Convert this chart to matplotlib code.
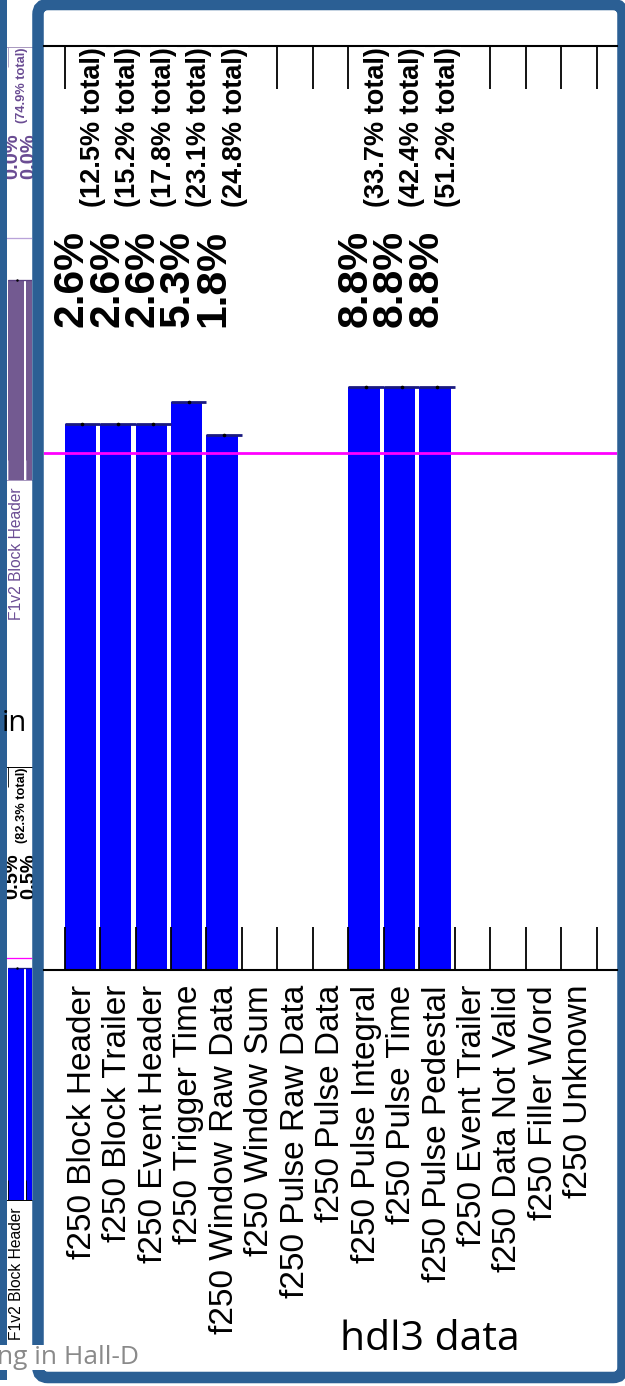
import numpy as np
import matplotlib.pyplot as plt
from matplotlib.patches import FancyBboxPatch, Rectangle
from matplotlib.transforms import blended_transform_factory

plt.rcParams['font.family'] = ['Liberation Sans', 'DejaVu Sans']

W, H = 625, 1386

# hdl3 data: f250 word types, percent of words and running total
f250_types = ['Block Header', 'Block Trailer', 'Event Header', 'Trigger Time',
              'Window Raw Data', 'Window Sum', 'Pulse Raw Data', 'Pulse Data',
              'Pulse Integral', 'Pulse Time', 'Pulse Pedestal', 'Event Trailer',
              'Data Not Valid', 'Filler Word', 'Unknown']
f250_pct = [2.6, 2.6, 2.6, 5.3, 1.8, 0, 0, 0, 8.8, 8.8, 8.8, 0, 0, 0, 0]
f250_cum = [12.5, 15.2, 17.8, 23.1, 24.8, None, None, None,
            33.7, 42.4, 51.2, None, None, None, None]

# neighbouring panels, cut off at the left edge of the picture
f1_types = ['F1v2 Block Header', 'F1v2 Block Trailer']
f1_pct_top = [0.049, 0.049]
f1_cum_top = [74.9, None]
f1_pct_bot = [0.47, 0.47]
f1_cum_bot = [82.3, None]

threshold = 1.0  # percent
ylo, yhi = 10**-7.477, 10**5.876
blue_frame = '#2b5f94'


def px_box(x0, y0, x1, y1):
    return [x0 / W, 1 - y1 / H, (x1 - x0) / W, (y1 - y0) / H]


def draw_panel(ax, names, pct, cum, s=1.0, bar_c='#0000ff', top_c='#1a1a80',
               txt_c='black', line_c='#ff00ff', tick_c='black'):
    n = len(names)
    edges = np.arange(n + 1)
    centers = edges[:-1] + 0.5
    pct = np.array(pct, float)
    on = pct > 0
    ax.set_yscale('log')
    ax.set_ylim(ylo, yhi)
    ax.bar(edges[:-1][on], pct[on], width=0.88, align='edge', color=bar_c,
           edgecolor=bar_c, linewidth=0, zorder=1)
    ax.hlines(pct[on], edges[:-1][on], edges[1:][on], color=top_c, lw=2 * s, zorder=2)
    ax.plot(centers[on], pct[on], 'o', ms=1.6 * s, color='black', zorder=2)
    ax.axhline(threshold, color=line_c, lw=2 * s, zorder=2.2)

    tr = blended_transform_factory(ax.transData, ax.transAxes)
    for i in np.where(on)[0]:
        ax.text(centers[i] - 0.3, 0.696, f'{pct[i]:.1f}%', transform=tr, rotation=90,
                ha='center', va='bottom', fontsize=30.7 * s, fontweight='bold', color=txt_c)
        if cum[i] is not None:
            ax.text(centers[i] + 0.3, 0.9985, f'({cum[i]:.1f}% total)', transform=tr,
                    rotation=90, ha='center', va='top', fontsize=19.5 * s,
                    fontweight='bold', color=txt_c,
                    bbox=dict(fc='white', ec='none', pad=0))

    ax.set_xticks(edges)
    ax.set_xticks(centers, names, minor=True, rotation=90, fontsize=24 * s, color=txt_c)
    ax.tick_params(axis='x', which='major', direction='in', length=31 * s, width=1.3 * s,
                   top=True, bottom=True, labelbottom=False, color=tick_c)
    ax.tick_params(axis='x', which='minor', length=0, pad=10.8 * s)
    ax.yaxis.set_visible(False)
    for side in ['left', 'right']:
        ax.spines[side].set_visible(False)
    for side in ['top', 'bottom']:
        ax.spines[side].set_linewidth(1.5 * s)
        ax.spines[side].set_color(tick_c)


fig = plt.figure(figsize=(W / 100, H / 100), dpi=100)

# left strip: pieces of two other panels
ax_p = fig.add_axes(px_box(6, 47, 32, 480), zorder=0)
draw_panel(ax_p, f1_types, f1_pct_top, f1_cum_top, s=0.47, bar_c='#735a91',
           top_c='#5a3f80', txt_c='#6a4c93', line_c='#b9a3d9', tick_c='#a898bf')
ax_p.set_xlim((6 - 8.3) / 17.4, (32 - 8.3) / 17.4)

ax_b = fig.add_axes(px_box(6, 767, 32, 1200), zorder=0)
draw_panel(ax_b, f1_types, f1_pct_bot, f1_cum_bot, s=0.47)
ax_b.set_xlim((6 - 8.3) / 17.4, (32 - 8.3) / 17.4)

# slide frame and slide text
ov = fig.add_axes([0, 0, 1, 1], zorder=1)
ov.set_xlim(0, W)
ov.set_ylim(H, 0)
ov.axis('off')
ov.patch.set_alpha(0)
ov.add_patch(Rectangle((-10, -10), 16.5, 1390, fc=blue_frame, ec='none'))
ov.add_patch(FancyBboxPatch((38, 4.5), 623 - 38, 1377.5 - 4.5,
                            boxstyle='round,pad=0,rounding_size=10',
                            fc='white', ec=blue_frame, lw=8.3))
ov.text(27.5, 731, 'in', ha='right', va='baseline', fontsize=21,
        family='Open Sans', color='black')
ov.text(139, 1364, 'ng in Hall-D', ha='right', va='baseline', fontsize=19,
        family='Open Sans', color='#8a8a8a', zorder=5,
        bbox=dict(fc='white', ec='none', pad=0))
ov.text(430, 1350, 'hdl3 data', ha='center', va='baseline', fontsize=29.5,
        family='Open Sans', color='black')

# main chart
ax = fig.add_axes(px_box(44, 46, 617, 970), zorder=2)
draw_panel(ax, ['f250 ' + t for t in f250_types], f250_pct, f250_cum)
ax.set_xlim((44 - 64.6) / 35.47, (617 - 64.6) / 35.47)

fig.savefig('out.png', dpi=100, facecolor='white')
